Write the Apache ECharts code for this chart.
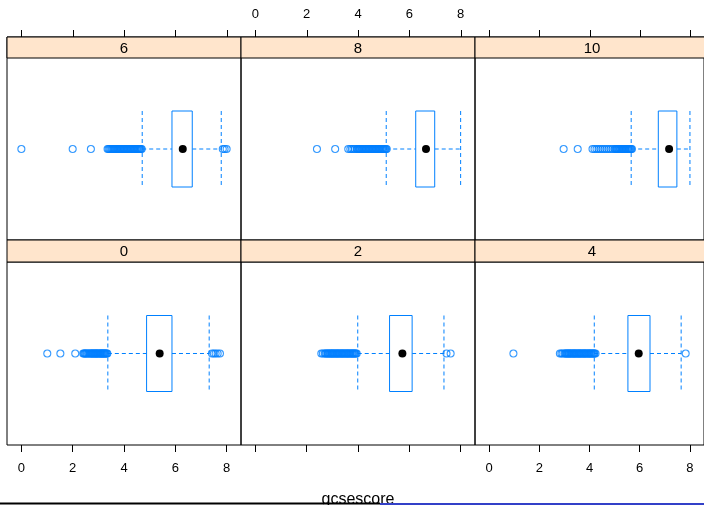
<!DOCTYPE html>
<html>
<head>
<meta charset="utf-8">
<script src="https://cdn.jsdelivr.net/npm/echarts@6/dist/echarts.min.js"></script>
<style>
  html, body { margin: 0; padding: 0; background: #fff; }
  #chart { width: 704px; height: 505px; }
</style>
</head>
<body>
<div id="chart"></div>
<script>
// panel labels, in lattice order (bottom row first)
const panelNames = ['0', '2', '4', '6', '8', '10'];
const tickValues = [0, 2, 4, 6, 8];

// box statistics per panel
const lowerWhisker = [3.37, 3.99, 4.19, 4.71, 5.10, 5.66];
const lowerHinge   = [4.88, 5.23, 5.53, 5.87, 6.25, 6.74];
const medians      = [5.39, 5.73, 5.96, 6.29, 6.65, 7.17];
const upperHinge   = [5.87, 6.11, 6.41, 6.66, 6.99, 7.48];
const upperWhisker = [7.32, 7.35, 7.65, 7.79, 8.00, 8.00];

// outlying points per panel
const outliers0 = [1.01, 1.52, 2.10, 2.41, 2.44, 2.47, 2.50, 2.53, 2.56, 2.60, 2.63, 2.67, 2.70, 2.73, 2.75,
  2.78, 2.80, 2.83, 2.86, 2.89, 2.90, 2.93, 2.95, 2.98, 3.00, 3.03, 3.06, 3.09, 3.10, 3.13, 3.15, 3.18,
  3.20, 3.22, 3.25, 3.27, 3.30, 3.33, 3.35, 7.43, 7.50, 7.57, 7.65, 7.74];
const outliers2 = [2.57, 2.63, 2.70, 2.73, 2.76, 2.80, 2.83, 2.86, 2.89, 2.92, 2.95, 2.98, 3.00, 3.03, 3.06,
  3.09, 3.12, 3.15, 3.18, 3.20, 3.23, 3.26, 3.29, 3.32, 3.35, 3.38, 3.40, 3.43, 3.46, 3.49, 3.52, 3.55,
  3.58, 3.60, 3.63, 3.66, 3.69, 3.72, 3.75, 3.78, 3.80, 3.83, 3.86, 3.89, 3.92, 3.95, 7.45, 7.61];
const outliers4 = [0.97, 2.82, 2.88, 2.93, 3.00, 3.03, 3.06, 3.09, 3.12, 3.15, 3.18, 3.20, 3.23, 3.26, 3.29,
  3.32, 3.35, 3.38, 3.40, 3.43, 3.46, 3.49, 3.52, 3.55, 3.58, 3.60, 3.63, 3.66, 3.69, 3.72, 3.75, 3.78,
  3.80, 3.83, 3.86, 3.89, 3.92, 3.95, 3.98, 4.00, 4.03, 4.06, 4.09, 4.12, 4.15, 4.18, 4.20, 4.24, 7.83];
const outliers6 = [0.00, 2.00, 2.71, 3.36, 3.40, 3.44, 3.48, 3.52, 3.55, 3.58, 3.61, 3.64, 3.67, 3.70, 3.73,
  3.76, 3.79, 3.82, 3.85, 3.88, 3.91, 3.94, 3.97, 4.00, 4.03, 4.06, 4.09, 4.12, 4.15, 4.18, 4.21, 4.24,
  4.27, 4.30, 4.33, 4.36, 4.39, 4.42, 4.45, 4.48, 4.51, 4.54, 4.57, 4.60, 4.63, 4.66, 4.69,
  7.85, 7.92, 8.00];
const outliers8 = [2.40, 3.11, 3.62, 3.70, 3.76, 3.82, 3.88, 3.95, 3.98, 4.01, 4.04, 4.07, 4.10, 4.13, 4.16,
  4.19, 4.22, 4.25, 4.28, 4.31, 4.34, 4.37, 4.40, 4.43, 4.46, 4.49, 4.52, 4.55, 4.58, 4.61, 4.64, 4.67,
  4.70, 4.73, 4.76, 4.79, 4.82, 4.85, 4.88, 4.91, 4.94, 4.97, 5.00, 5.03, 5.06, 5.09, 5.12];
const outliers10 = [2.97, 3.53, 4.12, 4.20, 4.28, 4.36, 4.44, 4.52, 4.60, 4.68, 4.76, 4.84, 4.92, 5.00, 5.03,
  5.06, 5.09, 5.12, 5.15, 5.18, 5.21, 5.24, 5.27, 5.30, 5.33, 5.36, 5.39, 5.42, 5.45, 5.48, 5.51, 5.54,
  5.57, 5.60, 5.63, 5.66, 5.69];
const outlierSets = [outliers0, outliers2, outliers4, outliers6, outliers8, outliers10];

const BLUE = '#0080ff';
const FONT = 'Liberation Sans, Arial, sans-serif';

// layout of the lattice (bottom row first)
const colLeft = [7, 241, 475];
const panelW = 234;
const stripTop = [240, 37];
const stripH = [22, 21];
const panelBottom = [445, 240];
const boxHalf = 38;
const tickLen = 7;

const chart = echarts.init(document.getElementById('chart'));

const grids = [], xAxes = [], yAxes = [], series = [], graphics = [];

panelNames.forEach((name, i) => {
  const row = Math.floor(i / 3);
  const col = i % 3;
  const isTop = row === 1;
  const panelTop = stripTop[row] + stripH[row];

  // top-row grids include their strip, so the top axis sits above the strip
  const gTop = isTop ? stripTop[row] : panelTop;
  const gH = panelBottom[row] - gTop;
  const centerPx = (panelTop + panelBottom[row]) / 2;
  const yMax = 0.5 * gH / (panelBottom[row] - centerPx);

  grids.push({
    left: colLeft[col], top: gTop, width: panelW, height: gH,
    show: true, borderColor: '#000', borderWidth: 1, backgroundColor: 'transparent'
  });

  // lattice alternates labels: top row only middle, bottom row left + right
  const showLabel = isTop ? col === 1 : col !== 1;
  xAxes.push({
    gridIndex: i,
    type: 'value',
    min: -0.56,
    max: 8.56,
    position: isTop ? 'top' : 'bottom',
    axisLine: { show: false },
    splitLine: { show: false },
    axisTick: { show: !isTop, length: tickLen, customValues: tickValues, lineStyle: { color: '#000' } },
    axisLabel: {
      show: showLabel, customValues: tickValues, margin: isTop ? 16 : 17,
      color: '#000', fontSize: 13, fontFamily: FONT
    }
  });
  yAxes.push({ gridIndex: i, type: 'value', min: 0, max: yMax, show: false });

  // top-row tick marks, placed through the panel's x scale
  if (isTop) {
    series.push({
      type: 'custom',
      xAxisIndex: i, yAxisIndex: i,
      clip: false,
      silent: true,
      data: tickValues.map(v => [v, 0]),
      renderItem: function (params, api) {
        const x = Math.round(api.coord([api.value(0), 0])[0]) + 0.5;
        const y = params.coordSys.y;
        return {
          type: 'line',
          shape: { x1: x, y1: y - tickLen, x2: x, y2: y },
          style: { stroke: '#000', lineWidth: 1 }
        };
      },
      z: 8
    });
  }

  series.push({
    type: 'custom',
    xAxisIndex: i, yAxisIndex: i,
    clip: false,
    encode: { x: [0, 1, 2, 3, 4] },
    data: [[lowerWhisker[i], lowerHinge[i], medians[i], upperHinge[i], upperWhisker[i]]],
    renderItem: function (params, api) {
      const px = v => api.coord([v, 0.5])[0];
      const cy = api.coord([0, 0.5])[1];
      const lw = px(api.value(0)), q1 = px(api.value(1)), md = px(api.value(2));
      const q3 = px(api.value(3)), uw = px(api.value(4));
      const dash = { stroke: BLUE, lineWidth: 1, lineDash: [4, 3] };
      return {
        type: 'group',
        children: [
          { type: 'line', shape: { x1: lw, y1: cy, x2: q1, y2: cy }, style: dash },
          { type: 'line', shape: { x1: q3, y1: cy, x2: uw, y2: cy }, style: dash },
          { type: 'line', shape: { x1: lw, y1: cy - boxHalf, x2: lw, y2: cy + boxHalf }, style: dash },
          { type: 'line', shape: { x1: uw, y1: cy - boxHalf, x2: uw, y2: cy + boxHalf }, style: dash },
          { type: 'rect', shape: { x: q1, y: cy - boxHalf, width: q3 - q1, height: boxHalf * 2 },
            style: { fill: '#fff', stroke: BLUE, lineWidth: 1 } },
          { type: 'circle', shape: { cx: md, cy: cy, r: 4 }, style: { fill: '#000' } }
        ]
      };
    },
    z: 2
  });

  series.push({
    type: 'scatter',
    xAxisIndex: i, yAxisIndex: i,
    symbol: 'circle',
    symbolSize: 7,
    itemStyle: { color: 'rgba(0,0,0,0)', borderColor: BLUE, borderWidth: 1.1 },
    emphasis: { disabled: true },
    data: outlierSets[i].map(v => [v, 0.5]),
    z: 3
  });

  // strip on top of the panel
  graphics.push({
    type: 'rect',
    shape: { x: colLeft[col], y: stripTop[row], width: panelW, height: stripH[row] },
    style: { fill: '#ffe5cc', stroke: '#000', lineWidth: 1 },
    z: 5
  });
  graphics.push({
    type: 'text',
    x: colLeft[col] + panelW / 2,
    y: stripTop[row] + stripH[row] / 2 + 1,
    style: { text: name, fontSize: 15, fontFamily: FONT, fill: '#000', align: 'center', verticalAlign: 'middle' },
    z: 6
  });
});

graphics.push({
  type: 'text', x: 358, y: 508,
  style: { text: 'gcsescore', fontSize: 16, fontFamily: FONT, fill: '#000', align: 'center', verticalAlign: 'bottom' },
  z: 4
});
graphics.push({ type: 'line', shape: { x1: 0, y1: 503.5, x2: 380, y2: 503.5 }, style: { stroke: '#000', lineWidth: 2 }, z: 7 });
graphics.push({ type: 'line', shape: { x1: 380, y1: 504, x2: 704, y2: 504 }, style: { stroke: '#3340c8', lineWidth: 2 }, z: 7 });

chart.setOption({
  animation: false,
  grid: grids,
  xAxis: xAxes,
  yAxis: yAxes,
  series: series,
  graphic: graphics
});
</script>
</body>
</html>
